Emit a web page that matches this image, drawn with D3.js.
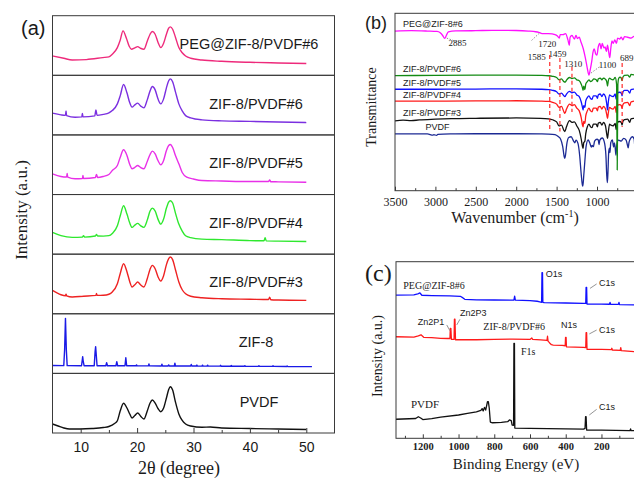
<!DOCTYPE html>
<html><head><meta charset="utf-8">
<script src="https://cdn.jsdelivr.net/npm/d3@7"></script>
<style>body{margin:0;background:#fff}svg{display:block}
.serif{font-family:"Liberation Serif","DejaVu Serif","Noto Serif",serif}
.sans{font-family:"Liberation Sans",Arial,"DejaVu Sans",sans-serif}
</style>
</head><body><svg id="c" width="634" height="479"></svg>
<script>
// ---------------- (a) XRD data: [2theta, intensity (a.u., panel-relative)] ----------------
const xrdLabels = ["PEG@ZIF-8/PVDF#6","ZIF-8/PVDF#6","ZIF-8/PVDF#5","ZIF-8/PVDF#4","ZIF-8/PVDF#3","ZIF-8","PVDF"];
const xrdTicks = [10,20,30,40,50];
const xrdMinorTicks = [15,25,35,45];
const xrdPeg = [[5,32.4],[7,28.6],[8.5,25.7],[11,26.4],[13.9,29.7],[15,31],[15.6,35.3],[16.5,46.5],[17,58.8],[17.5,74.5],[18.1,62.2],[18.6,48.7],[19,43.7],[19.6,46.2],[20.1,48.2],[20.6,45.4],[21.2,43.7],[21.8,57.1],[22.3,68.9],[22.7,73.4],[23.2,68.9],[23.7,55.5],[24.2,46.5],[24.7,53.8],[25.2,68.9],[25.6,79],[25.9,81.2],[26.3,77.3],[26.8,63.9],[27.4,46.5],[28,37.8],[28.6,32.4],[29.5,28.6],[31.5,25.7],[35,23.5],[40,21.8],[45,20.7],[50,19.7]];
const xrd6 = [[5,36.5],[6.5,33.6],[7.3,32.8],[7.4,40.3],[7.5,32.4],[9,29.7],[10.2,30.3],[10.3,36.1],[10.4,30.3],[12.5,31.9],[12.7,42],[12.9,32.8],[14,34.5],[15,37],[15.6,40.8],[16.5,52.1],[17,65.5],[17.6,84.5],[18.2,70.6],[18.7,53.8],[19.1,46.6],[19.6,50.4],[20.1,53.3],[20.6,48.7],[21.2,45.4],[21.8,58.8],[22.3,73.9],[22.7,81.2],[23.2,75.6],[23.7,60.5],[24.2,52.1],[24.7,60.5],[25.2,79],[25.6,90.8],[25.9,94.1],[26.3,89.1],[26.8,72.3],[27.4,52.1],[28,40.3],[28.6,32.4],[29.5,28.6],[31.5,25.2],[35,23.5],[40,22.7],[45,21.8],[50,20.7]];
const xrd5 = [[5,34.8],[6.5,30.3],[7.5,29.4],[7.6,35.3],[7.7,29.1],[9,26.4],[10.3,26.9],[10.4,31.9],[10.5,26.9],[12.6,28.6],[12.8,33.6],[13,28.6],[14,30.3],[15,33.6],[15.6,40.3],[16.5,48.7],[17,62.2],[17.6,75.1],[18.2,65.5],[18.7,50.4],[19.1,43.2],[19.6,45.4],[20.1,48.7],[20.6,45.4],[21.2,43.2],[21.8,55.5],[22.3,67.2],[22.7,72.8],[23.2,68.1],[23.7,57.1],[24.2,49.9],[24.7,57.1],[25.2,73.9],[25.6,82.4],[25.9,84],[26.3,79],[26.8,65.5],[27.4,51.6],[28,37],[28.8,29.1],[30,26],[31.5,23.5],[35,22.7],[40,21.8],[43.3,21.8],[43.5,24.4],[43.7,21.5],[45,21.3],[50,20.7]];
const xrd4 = [[5,36.5],[6.5,31.1],[8.5,28.1],[10.3,28.6],[10.5,30.8],[10.7,28.6],[12.6,30.5],[12.8,33],[13,30.5],[14,30.3],[15,31.1],[15.6,34.8],[16.5,47.6],[17,63.9],[17.6,81.2],[18.2,67.2],[18.7,52.1],[19.1,44.9],[19.6,48.7],[20.1,51.6],[20.6,47.9],[21.2,44.9],[21.8,57.1],[22.3,72.3],[22.7,77.3],[23.2,72.3],[23.7,58.8],[24.2,50.4],[24.7,58.8],[25.2,77.3],[25.6,87.4],[25.9,89.6],[26.3,85.7],[26.8,68.9],[27.4,50.4],[28,38.7],[28.6,30.8],[29.5,27.7],[31.5,25.2],[35,24.4],[40,22.7],[42.5,22.4],[42.7,27.7],[42.9,22.2],[45,21.8],[50,21.3]];
const xrd3 = [[5,39.2],[6.5,31.9],[7.3,30.3],[7.4,32.8],[7.5,30.1],[8.5,28.1],[10.5,29.4],[12.7,30.8],[12.8,34.1],[12.9,30.8],[14,31.1],[15,32.8],[15.6,36.5],[16.5,50.4],[17,67.2],[17.6,84],[18.2,70.6],[18.7,53.8],[19.1,44.9],[19.6,48.7],[20.1,53.3],[20.6,48.7],[21.2,44.9],[21.8,58.8],[22.3,74.8],[22.7,81.2],[23.2,75.6],[23.7,62.2],[24.2,55],[24.7,63.9],[25.2,82.4],[25.6,92.4],[25.9,95.3],[26.3,90.8],[26.8,73.9],[27.4,53.3],[28,40.3],[28.6,33.6],[29.5,29.4],[31.5,26.9],[35,25.2],[40,24.4],[43.3,23.9],[43.5,27.7],[43.7,23.5],[45,23],[50,22.4]];
const xrdZif = [[5,13.2],[7.0,13.0],[7.15,40],[7.3,92.3],[7.45,40],[7.6,13.0],[10.15,12.9],[10.3,24],[10.35,28],[10.45,20],[10.6,12.9],[12.4,12.9],[12.55,36],[12.65,44.8],[12.75,32],[12.9,12.9],[14.45,12.8],[14.6,17.9],[14.75,12.8],[16.25,12.8],[16.4,19.6],[16.55,12.8],[17.85,12.8],[18.0,26.3],[18.15,12.8],[19.8,12.7],[19.9,14.2],[20.0,12.7],[22.0,12.6],[22.1,15.8],[22.2,12.6],[24.3,12.5],[24.4,15.5],[24.5,12.5],[25.5,12.5],[25.6,14.3],[25.7,12.5],[26.6,12.4],[26.7,17.2],[26.8,12.4],[29.5,12.3],[29.6,15],[29.7,12.3],[30.5,12.3],[30.6,14],[30.7,12.2],[31.5,12.2],[31.6,13.8],[31.7,12.2],[32.4,12.2],[32.5,13.8],[32.6,12.1],[34.7,12.1],[34.8,13.5],[34.9,12],[36.6,12],[36.7,13.3],[36.8,12],[39,11.9],[39.1,13],[39.2,11.9],[41.5,11.8],[41.6,12.8],[41.7,11.8],[44,11.7],[44.1,12.7],[44.2,11.7],[46.5,11.6],[46.6,12.5],[46.7,11.6],[51,11.3]];
const xrdPvdf = [[5,15.1],[6,11.7],[7,8.4],[8,6.7],[10,6.7],[12,7.5],[14,9.2],[15,10.9],[16,15.9],[16.5,20.6],[17,36.9],[17.6,49.8],[18.2,41.9],[18.7,31.9],[19.1,25.2],[19.6,29.4],[20.1,33.6],[20.6,28.5],[21.2,23.5],[21.8,36.9],[22.3,50.3],[22.7,55.4],[23.2,50.3],[23.7,41.1],[24.2,35.7],[24.7,41.9],[25.2,58.7],[25.6,73],[25.9,77.7],[26.3,72.1],[26.8,52],[27.4,31.9],[28,21],[28.6,15.1],[29.5,11.7],[31.5,9.6],[33,10.1],[35,8.4],[40,7.5],[45,6.7],[50,5.9]];

// ---------------- (b) FTIR data: [wavenumber, transmittance (stacked)] ----------------
const ftirLabels = ["PEG@ZIF-8#6","ZIF-8/PVDF#6","ZIF-8/PVDF#5","ZIF-8/PVDF#4","ZIF-8/PVDF#3","PVDF"];
const ftirTicks = [3500,3000,2500,2000,1500,1000];
const ftirMinorTicks = [3250,2750,2250,1750,1250,750,500];
const ftirPeg = [[3500,90],[3300,90.2],[3100,90],[2980,89.8],[2940,89],[2910,87.5],[2885,85.9],[2865,87.5],[2840,89.5],[2750,90.1],[2500,90.2],[2300,90.4],[2000,90.3],[1850,90],[1760,89.6],[1720,89.2],[1680,88.6],[1600,88.5],[1520,88],[1490,87.2],[1467,86],[1455,88],[1420,88],[1390,88.5],[1360,85],[1343,82],[1333,86.5],[1310,87.5],[1280,85.5],[1260,87.5],[1242,85.8],[1220,86.5],[1200,84],[1170,80],[1145,75],[1120,69],[1100,65.2],[1085,68],[1065,73],[1050,78],[1035,80],[1015,77],[1000,76.5],[985,81],[965,83],[950,80],[935,83],[915,80.5],[900,81],[885,78.5],[870,82],[855,78],[842,75],[830,80],[815,84.5],[800,83],[780,85],[760,83],[745,86],[720,85.5],[700,86.5],[680,85],[660,86.8],[620,86.5],[580,86],[540,87],[500,86.8],[400,87]];
const ftir6 = [[3500,64.9],[3000,65],[2500,65.1],[2000,65.2],[1700,65],[1600,64.8],[1550,64.5],[1500,63.8],[1470,62.5],[1440,63],[1410,61.5],[1395,61.2],[1375,62.5],[1340,63.8],[1310,63.2],[1280,63.6],[1250,62.5],[1220,62],[1195,60],[1180,58],[1172,56.5],[1165,59],[1150,57],[1140,60],[1120,61.5],[1100,62.5],[1080,61.5],[1060,62],[1040,63],[1010,62.5],[995,61.5],[985,63],[960,63.5],[940,62.5],[920,63.5],[895,62.8],[880,61.5],[870,59],[860,62],[845,63.5],[830,63],[800,62.5],[775,63.8],[758,60],[750,11.7],[742,60],[730,63.5],[715,64],[700,63.5],[690,62],[680,64],[660,65],[620,65.2],[595,64],[580,65.5],[540,65.3],[500,65.5],[400,65.5]];
const ftir5 = [[3500,57.2],[3000,57.2],[2500,57.3],[2000,57.4],[1700,57.2],[1600,57],[1550,56.6],[1500,55.8],[1470,54.5],[1440,55],[1410,53.5],[1398,53],[1378,54.5],[1340,56],[1310,55.2],[1280,55.6],[1250,54],[1220,53],[1195,50],[1180,47],[1172,45.5],[1165,48],[1150,47],[1140,50.5],[1120,52.5],[1100,53.5],[1080,52],[1062,51.5],[1045,53.5],[1010,53.5],[995,52],[985,54],[960,54.5],[940,53],[920,54.5],[895,53],[880,49],[870,45.5],[860,50],[845,54],[830,53.5],[800,53],[775,54.5],[763,51.5],[750,55],[720,55.5],[700,55],[690,53.5],[680,55.5],[660,56.5],[620,56.5],[595,55],[580,57],[540,57.3],[500,57.5],[400,57.5]];
const ftir4 = [[3500,50.5],[3000,50.5],[2500,50.6],[2000,50.7],[1700,50.5],[1600,50.3],[1550,49.8],[1500,48.8],[1470,47],[1440,47.5],[1410,44.5],[1398,43.6],[1378,46],[1340,48.8],[1310,48],[1280,48.5],[1250,46.5],[1220,45],[1195,41],[1180,37],[1172,36],[1165,39],[1150,38],[1140,42],[1120,45],[1100,46.5],[1080,45],[1062,44.5],[1045,46.5],[1010,46.5],[995,45],[985,47],[960,47.5],[940,46],[920,47.5],[895,46],[880,43],[870,40.8],[860,44],[845,47],[830,46.5],[800,46],[775,47.5],[763,44],[750,48],[720,48.5],[700,48],[690,46.5],[680,48.5],[660,49.5],[620,49.8],[595,48],[580,50],[540,50.5],[500,51],[400,51]];
const ftir3 = [[3500,39.4],[3400,39.8],[3300,39.5],[3200,39.9],[3000,40.3],[2800,40.6],[2500,40.8],[2000,41],[1700,40.8],[1600,40.5],[1550,40],[1500,38.8],[1470,36.5],[1440,37],[1410,34],[1398,33.3],[1378,36],[1340,39.5],[1310,38.5],[1280,38.8],[1250,36.5],[1220,34],[1195,29],[1180,25],[1172,23.9],[1165,27],[1150,28],[1140,32],[1120,36],[1100,37.5],[1080,36],[1062,35.5],[1045,37.5],[1010,37.5],[995,36],[985,38],[960,38.5],[940,37],[920,38.5],[895,36.5],[880,32],[870,29.5],[860,33],[845,37.5],[830,37],[800,36.5],[775,38],[763,34.5],[750,38.5],[720,39],[700,38.5],[690,37],[680,39],[660,40],[620,40.3],[595,38.5],[580,40.5],[540,40.8],[500,41],[400,41]];
const ftirPvdf = [[3500,32],[3300,32],[3100,32],[3030,31.3],[3020,31.6],[2985,31.2],[2970,31.8],[2800,32],[2500,32.1],[2000,32.1],[1700,32],[1600,31.9],[1520,31.6],[1480,30.5],[1450,29],[1425,25],[1405,19],[1398,18.3],[1390,20],[1375,26],[1350,30],[1320,30.4],[1290,28],[1275,27],[1260,28.5],[1235,26.5],[1215,20],[1195,9],[1180,3],[1175,2.6],[1165,8],[1150,17],[1135,25],[1110,28.6],[1090,27],[1070,24.6],[1060,25.5],[1045,24.8],[1030,28],[1000,29],[984,28.6],[976,26],[965,28.5],[935,29.7],[910,27.5],[890,20],[880,9],[872,4.5],[865,10],[855,22],[845,24],[840,21.5],[830,27],[810,28.6],[795,24.6],[785,27],[776,24.6],[766,20],[755,26],[735,28.5],[700,28],[670,29.5],[640,28.5],[625,26],[614,24.1],[605,27],[590,29],[563,30.4],[540,29],[532,25],[520,29],[500,30],[490,24],[480,29],[400,30]];
// dashed marker lines: [wavenumber, top T, bottom T]
const ftirMarkers = [[1585,76.5,33.4],[1459,74.8,33.4],[1310,69.9,44.4],[689,72,35.9]];
// numeric annotations: [text, wavenumber at text start, T at baseline]
const ftirNotes = [["2885",2838,81.6],["1720",1728,81.2],["1585",1858,73.7],["1459",1600,75.3],["1310",1405,69.6],["1100",980,69.1],["689",716,73.3]];
// dotted leaders: [wn1, T1, wn2, T2]
const ftirLeaders = [[2860,86,2690,83.3],[1810,84.7,1700,89.4],[1075,66.3,955,70.3]];

// ---------------- (c) XPS data: [binding energy eV, intensity (stacked)] ----------------
const xpsLabels = ["PEG@ZIF-8#6","ZIF-8/PVDF#6","PVDF"];
const xpsTicks = [1200,1000,800,600,400,200,0];
const xpsMinorTicks = [1300,1100,900,700,500,300,100];
const xpsPeg = [[1350,81.1],[1250,81.2],[1228,81.8],[1216,82.3],[1205,81],[1150,80.8],[1050,80.6],[990,80.4],[975,79.5],[965,78.7],[900,78.4],[800,78.3],[700,78.2],[690,78.3],[686,80.5],[682,78.2],[600,78],[560,77.6],[545,77.3],[535,77.0],[533,93.8],[530,93.8],[528,77],[520,76.8],[400,76.6],[300,76.4],[288,76.4],[286,85.5],[283,85.5],[281,76],[200,76],[155,75.9],[152,77],[149,75.9],[105,75.8],[102,77],[99,75.7],[0,75.5]];
const xpsZif = [[1350,57.5],[1250,57.3],[1225,58],[1210,58.6],[1195,57.2],[1150,57],[1100,56.6],[1060,56.5],[1048,56.5],[1046,62.3],[1043,62.3],[1040,56],[1025,56],[1023,67.4],[1020,67.4],[1017,55.8],[900,55.8],[800,56],[700,56.2],[600,56],[590,56.8],[585,56],[540,55.7],[505,55.4],[502,57.8],[499,55],[490,54],[480,53],[470,52.8],[420,52.6],[403,52.4],[401,57.2],[398,57.2],[396,51.8],[300,51.5],[288,51.4],[286,59.8],[283,59.8],[281,50.4],[200,50.3],[145,50.2],[142,51],[139,50],[95,49.8],[92,51.3],[89,49.6],[0,49]];
const xpsPvdf = [[1350,10.8],[1240,11.2],[1225,12.2],[1212,11.5],[1200,10.6],[1150,11.2],[1100,12],[1000,13.2],[950,14.1],[900,15],[875,15.8],[868,16.8],[862,15.5],[855,17.5],[848,16],[838,20.7],[833,20.7],[828,17],[822,9.2],[810,8.8],[760,9],[725,9.4],[715,10.4],[705,10],[700,7.5],[692,7.4],[690,53.8],[687,53.8],[685,5.8],[600,5.6],[400,5.3],[300,5.2],[292,5.6],[289,12.2],[286,12.2],[283,4.7],[200,4.6],[40,4.4],[37,5.3],[34,4.3],[0,4.3]];
// peak labels: [text, eV at text start, intensity at baseline, font]
const xpsNotes = [["PEG@ZIF-8#6",1309,84.8,"serif"],["O1s",512,91.6,"sans"],["C1s",214,86.2,"sans"],["Zn2P1",1228,64.2,"sans"],["Zn2P3",992,69.3,"sans"],["ZIF-8/PVDF#6",861,61.3,"serif"],["N1s",427,62.3,"sans"],["C1s",214,59.9,"sans"],["F1s",650,47.2,"serif"],["PVDF",1266,17.2,"serif"],["C1s",214,16,"sans"]];
const xpsLeaders = [[264,84.9,227,87.4],[1066,64.2,1048,60.9],[992,67.4,1010,64.2],[268,59.1,227,61.3],[268,13.2,227,16.4]];

// ---------------- drawing ----------------
const svg = d3.select("#c");
svg.append("rect").attr("width",634).attr("height",479).attr("fill","#fff");
const frameCol = "#3a3a3a";
const txtCol = "#1a1a1a";
const fmt = d3.format("d");

// ===== (a) =====
const xA = d3.scaleLinear().domain([5,55]).range([52.5,334.5]);
const aTop = 15.7, aBot = 433, nP = 7, pH = (aBot-aTop)/nP;
const xrdSeries = [xrdPeg, xrd6, xrd5, xrd4, xrd3, xrdZif, xrdPvdf];
const xrdColors = ["#ee2a7b","#7b2fe0","#e830e8","#2ee82e","#ee2222","#1a1ae6","#111111"];
const xrdLabelX = [249,256,256,256,256,256,259];
xrdSeries.forEach((s,i)=>{
  const t = aTop + i*pH;
  const yA = d3.scaleLinear().domain([0,100]).range([t+pH, t]);
  const line = d3.line().x(d=>xA(d[0])).y(d=>yA(d[1])).curve(i===5?d3.curveLinear:d3.curveMonotoneX);
  svg.append("path").datum(s).attr("d",line).attr("fill","none")
     .attr("stroke",xrdColors[i]).attr("stroke-width",1.4).attr("stroke-linejoin","round");
  svg.append("rect").attr("x",xA(5)).attr("y",t).attr("width",xA(55)-xA(5)).attr("height",pH)
     .attr("fill","none").attr("stroke",frameCol).attr("stroke-width",1);
  svg.append("text").attr("class","sans").attr("x",xrdLabelX[i]).attr("y",t+pH*0.47+5.3).attr("text-anchor","middle")
     .attr("font-size",14.5).attr("fill",txtCol).text(xrdLabels[i]);
});
const axA = svg.append("g").attr("transform",`translate(0,${aBot})`)
  .call(d3.axisBottom(xA).tickValues(xrdTicks).tickFormat(fmt).tickSizeInner(-5).tickSizeOuter(0).tickPadding(9));
axA.attr("font-family",null);
axA.select(".domain").remove();
axA.selectAll("text").attr("class","sans").attr("font-size",14).attr("fill",txtCol);
axA.selectAll("line").attr("stroke",frameCol);
const axAm = svg.append("g").attr("transform",`translate(0,${aBot})`)
  .call(d3.axisBottom(xA).tickValues(xrdMinorTicks).tickSizeInner(-3).tickSizeOuter(0).tickFormat(""));
axAm.select(".domain").remove(); axAm.selectAll("line").attr("stroke",frameCol);
svg.append("text").attr("class","serif").attr("x",179).attr("y",474).attr("text-anchor","middle")
  .attr("font-size",18).attr("fill",txtCol).text("2θ (degree)");
svg.append("text").attr("class","serif").attr("transform","translate(27,210) rotate(-90)").attr("text-anchor","middle")
  .attr("font-size",17).attr("fill",txtCol).text("Intensity (a.u.)");
svg.append("text").attr("class","sans").attr("x",21).attr("y",35).attr("font-size",20)
  .attr("fill",txtCol).text("(a)");

// ===== (b) =====
const xB = d3.scaleLinear().domain([3500,400]).range([395,645.5]);
const yB = d3.scaleLinear().domain([0,100]).range([190.7,13.3]);
const gB = svg.append("g");
gB.append("clipPath").attr("id","clipB").append("rect").attr("x",395).attr("y",13.3).attr("width",260).attr("height",177.4);
const ftirSeries = [ftirPeg, ftir6, ftir5, ftir4, ftir3, ftirPvdf];
const ftirColors = ["#ff10ff","#138a13","#1010ff","#ff1a1a","#111111","#1c2a94"];
const lineB = d3.line().x(d=>xB(d[0])).y(d=>yB(d[1])).curve(d3.curveMonotoneX);
const curvesB = gB.append("g").attr("clip-path","url(#clipB)");
[5,4,3,2,1,0].forEach(i=>{
  curvesB.append("path").datum(ftirSeries[i]).attr("d",lineB).attr("fill","none")
    .attr("stroke",ftirColors[i]).attr("stroke-width",1.3).attr("stroke-linejoin","round");
});
ftirMarkers.forEach(m=>{
  gB.append("line").attr("x1",xB(m[0])).attr("x2",xB(m[0])).attr("y1",yB(m[1])).attr("y2",yB(m[2]))
    .attr("stroke","#ff2a2a").attr("stroke-width",1.2).attr("stroke-dasharray","4,3");
});
ftirLeaders.forEach(l=>{
  gB.append("line").attr("x1",xB(l[0])).attr("y1",yB(l[1])).attr("x2",xB(l[2])).attr("y2",yB(l[3]))
    .attr("stroke","#888").attr("stroke-width",0.9).attr("stroke-dasharray","1.5,1.5");
});
ftirNotes.forEach(n=>{
  gB.append("text").attr("class","serif").attr("x",xB(n[1])).attr("y",yB(n[2]))
    .attr("font-size",9).attr("fill","#222").text(n[0]);
});
const ftirLabelPos = [[403,26.5],[403,71.5],[403,86],[403,98.3],[403,116],[425.5,130]];
ftirLabels.forEach((t,i)=>{
  gB.append("text").attr("class","sans").attr("x",ftirLabelPos[i][0]).attr("y",ftirLabelPos[i][1])
    .attr("font-size",9).attr("fill",txtCol).text(t);
});
gB.append("rect").attr("x",395).attr("y",13.3).attr("width",260).attr("height",177.4)
  .attr("fill","none").attr("stroke",frameCol).attr("stroke-width",1);
const axB = svg.append("g").attr("transform","translate(0,190.7)")
  .call(d3.axisBottom(xB).tickValues(ftirTicks).tickFormat(fmt).tickSizeInner(-4).tickSizeOuter(0).tickPadding(7));
axB.attr("font-family",null);
axB.select(".domain").remove();
axB.selectAll("text").attr("class","serif").attr("font-size",12).attr("fill",txtCol);
axB.selectAll("line").attr("stroke",frameCol);
const axBm = svg.append("g").attr("transform","translate(0,190.7)")
  .call(d3.axisBottom(xB).tickValues(ftirMinorTicks).tickSizeInner(-2.5).tickSizeOuter(0).tickFormat(""));
axBm.select(".domain").remove(); axBm.selectAll("line").attr("stroke",frameCol);
const tB = svg.append("text").attr("class","serif").attr("x",515).attr("y",223).attr("text-anchor","middle")
  .attr("font-size",16).attr("fill",txtCol);
tB.append("tspan").text("Wavenumber (cm");
tB.append("tspan").attr("dy",-6).attr("font-size",10).text("-1");
tB.append("tspan").attr("dy",6).text(")");
svg.append("text").attr("class","serif").attr("transform","translate(375.5,107) rotate(-90)").attr("text-anchor","middle")
  .attr("font-size",14).attr("fill",txtCol).text("Transmittance");
svg.append("text").attr("class","sans").attr("x",365).attr("y",29).attr("font-size",18)
  .attr("fill",txtCol).text("(b)");

// ===== (c) =====
const xC = d3.scaleLinear().domain([1350,0]).range([396,637.2]);
const yC = d3.scaleLinear().domain([0,100]).range([438.3,261.7]);
const gC = svg.append("g");
gC.append("clipPath").attr("id","clipC").append("rect").attr("x",396).attr("y",261.7).attr("width",260).attr("height",176.6);
const xpsSeries = [xpsPeg, xpsZif, xpsPvdf];
const xpsColors = ["#1010ff","#ff1a1a","#111111"];
const lineC = d3.line().x(d=>xC(d[0])).y(d=>yC(d[1]));
const curvesC = gC.append("g").attr("clip-path","url(#clipC)");
xpsSeries.forEach((s,i)=>{
  curvesC.append("path").datum(s).attr("d",lineC).attr("fill","none")
    .attr("stroke",xpsColors[i]).attr("stroke-width",1.3).attr("stroke-linejoin","round");
});
xpsLeaders.forEach(l=>{
  gC.append("line").attr("x1",xC(l[0])).attr("y1",yC(l[1])).attr("x2",xC(l[2])).attr("y2",yC(l[3]))
    .attr("stroke","#888").attr("stroke-width",0.9);
});
xpsNotes.forEach(n=>{
  const serif = n[3]==="serif";
  gC.append("text").attr("class",serif?"serif":"sans").attr("x",xC(n[1])).attr("y",yC(n[2]))
    .attr("font-size",n[0]==="PVDF"?11:(serif?10:9)).attr("fill",txtCol).text(n[0]);
});
gC.append("rect").attr("x",396).attr("y",261.7).attr("width",260).attr("height",176.6)
  .attr("fill","none").attr("stroke",frameCol).attr("stroke-width",1);
const axC = svg.append("g").attr("transform","translate(0,438.3)")
  .call(d3.axisBottom(xC).tickValues(xpsTicks).tickFormat(fmt).tickSizeInner(-4).tickSizeOuter(0).tickPadding(4));
axC.attr("font-family",null);
axC.select(".domain").remove();
axC.selectAll("text").attr("class","serif").attr("font-size",10.5).attr("font-weight","bold").attr("fill","#222");
axC.selectAll("line").attr("stroke",frameCol);
const axCm = svg.append("g").attr("transform","translate(0,438.3)")
  .call(d3.axisBottom(xC).tickValues(xpsMinorTicks).tickSizeInner(-2.5).tickSizeOuter(0).tickFormat(""));
axCm.select(".domain").remove(); axCm.selectAll("line").attr("stroke",frameCol);
svg.append("text").attr("class","serif").attr("x",516).attr("y",469).attr("text-anchor","middle")
  .attr("font-size",15).attr("fill",txtCol).text("Binding Energy (eV)");
svg.append("text").attr("class","serif").attr("transform","translate(382,356) rotate(-90)").attr("text-anchor","middle")
  .attr("font-size",14).attr("fill",txtCol).text("Intensity (a.u.)");
svg.append("text").attr("class","serif").attr("x",365).attr("y",281).attr("font-size",24)
  .attr("fill",txtCol).text("(c)");
</script></body></html>
